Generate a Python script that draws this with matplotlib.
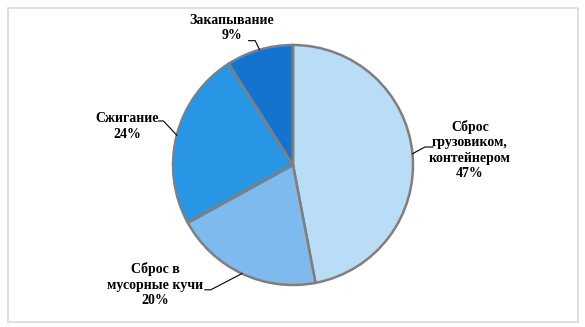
import numpy as np
import matplotlib.pyplot as plt
from matplotlib.patches import Rectangle

categories = ["Сброс\nгрузовиком,\nконтейнером", "Сброс в\nмусорные кучи", "Сжигание", "Закапывание"]
shares = [47, 20, 24, 9]
colors = ["#B9DCF7", "#7FBAEE", "#2896E5", "#1573D0"]

# label centres and leader stubs (x0, x1, y) in data units, pie radius = 1
label_pos = [(1.475, 0.125), (-1.15, -1.0), (-1.383, 0.32), (-0.508, 1.14)]
stubs = [(1.167, 1.10, 0.15), (-0.735, -0.685, -1.04), (-1.12, -1.08, 0.367), (-0.37, -0.315, 1.036)]

W, H = 585, 327
fig = plt.figure(figsize=(W / 100, H / 100), dpi=100)
fig.patches.append(Rectangle((8 / W, 5 / H), 570 / W, 314 / H, transform=fig.transFigure,
                             fill=False, edgecolor="#D9D9D9", linewidth=1.2))

cx, cy, r = 293, H - 165, 120
ax = fig.add_axes([(cx - r) / W, (cy - r) / H, 2 * r / W, 2 * r / H])

wedges, _ = ax.pie(shares, colors=colors, startangle=90, counterclock=False,
                   radius=1, wedgeprops=dict(edgecolor="#7F7F7F", linewidth=1.8))
ax.set_xlim(-1, 1)
ax.set_ylim(-1, 1)

for w, name, val, (tx, ty), (x0, x1, sy) in zip(wedges, categories, shares, label_pos, stubs):
    mid = np.deg2rad((w.theta1 + w.theta2) / 2)
    px, py = np.cos(mid), np.sin(mid)
    ax.text(tx, ty, f"{name}\n{val}%", ha="center", va="center", fontsize=10,
            fontweight="bold", family="Liberation Serif", linespacing=1.25,
            clip_on=False)
    # leader line: short horizontal stub, then diagonal to the wedge edge
    ax.plot([x0, x1, px], [sy, sy, py], color="black", linewidth=0.8, clip_on=False)

fig.savefig("out.png", dpi=100)
